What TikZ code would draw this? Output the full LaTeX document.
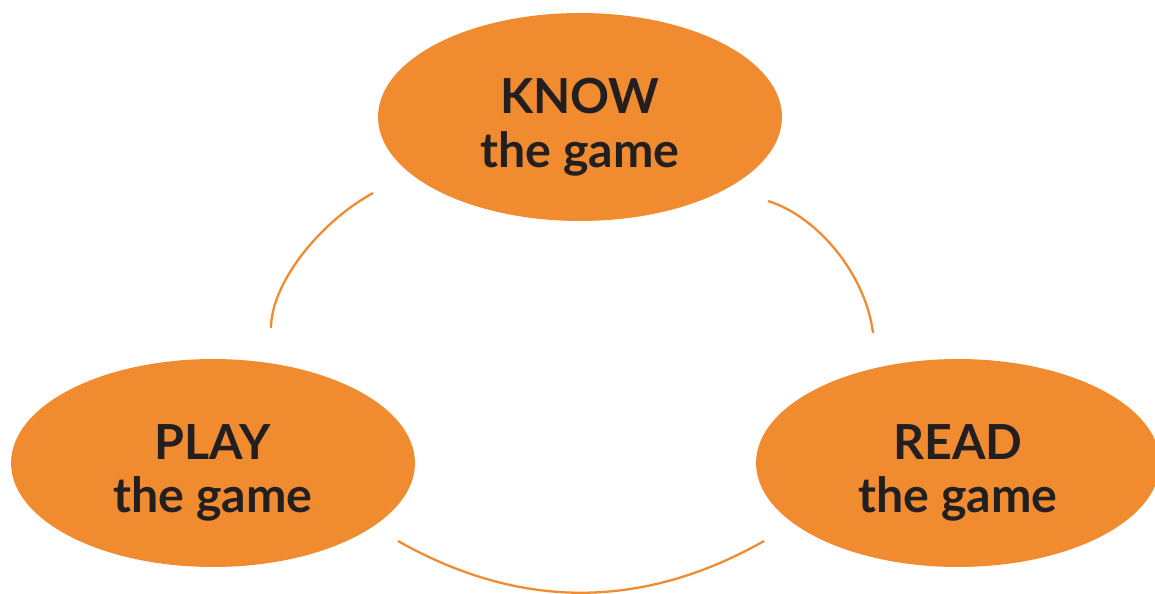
\documentclass[tikz,border=0pt]{standalone}
\usepackage{fontspec}
\setmainfont{Lato}
\usetikzlibrary{shapes.geometric}
\definecolor{gameorange}{RGB}{240,139,47}
\definecolor{gametext}{RGB}{35,31,32}
\tikzset{
semithick,
my ellipse/.style={ellipse,fill=gameorange,inner sep=0pt,
  minimum width=8.08cm,minimum height=4.16cm},
my text/.style={align=center,inner sep=0pt,yshift=-0.2cm,
  text=gametext,font=\bfseries\fontsize{27.5}{30.6}\selectfont},
my arc/.style={draw=gameorange,line width=1.3pt}
}
\begin{document}
\begin{tikzpicture}[x=0.02cm,y=-0.02cm]
\useasboundingbox (0,0) rectangle (1155,594);
% the three ellipses
\node[my ellipse] (know) at (580,117) {};
\node[my ellipse] (play) at (213,463) {};
\node[my ellipse] (read) at (958,463) {};
\node[my text] (know text) at (know) {KNOW\\the game};
\node[my text] (play text) at (play) {PLAY\\the game};
\node[my text] (read text) at (read) {READ\\the game};
% arc ends
\coordinate (kl) at (373,193);
\coordinate (pt) at (271,328);
\coordinate (kr) at (768,201);
\coordinate (rt) at (873,333);
\coordinate (pb) at (398,541);
\coordinate (rb) at (764,541);
% connecting arcs
\draw[my arc] (kl) .. controls (317,224) and (271,285) .. (pt);
\draw[my arc] (kr) .. controls (819,217) and (866,276) .. (rt);
\draw[my arc] (pb) .. controls (520,610) and (642,610) .. (rb);
\end{tikzpicture}
\end{document}
